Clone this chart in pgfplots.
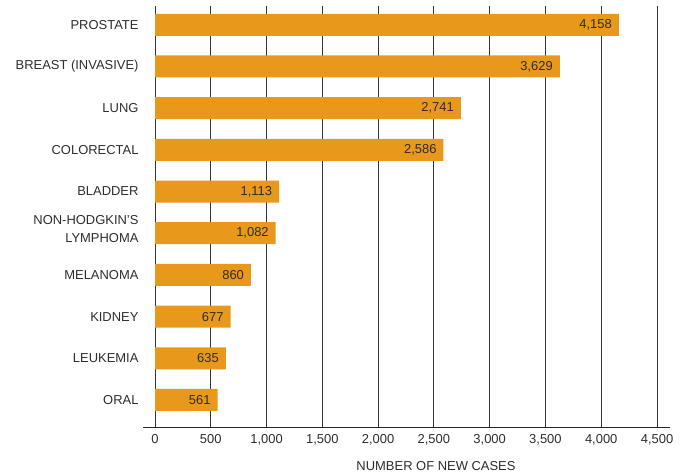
\documentclass[border=0pt]{standalone}
\usepackage{fontspec}
\setmainfont{Liberation Sans}
\usepackage{pgfplots}
\pgfplotsset{compat=1.18}
\definecolor{barc}{RGB}{232,153,28}
\definecolor{txt}{RGB}{45,45,45}
\begin{document}
\begin{tikzpicture}
\begin{axis}[
  at={(0,0)}, anchor=south west,
  scale only axis,
  width=527bp, height=421bp,
  xmin=-107.6, xmax=4616.5,
  ymin=-0.648, ymax=9.45,
  axis x line*=bottom, axis y line*=left,
  y axis line style={draw=none},
  x axis line style={draw=black!85, line width=0.8bp},
  xtick={0,500,...,4500},
  ytick={0,...,9},
  yticklabels={ORAL,LEUKEMIA,KIDNEY,MELANOMA,{NON-HODGKIN’S\\LYMPHOMA\\[-10bp]\mbox{}},BLADDER,COLORECTAL,LUNG,BREAST (INVASIVE),PROSTATE},
  major tick length=0pt,
  tick style={draw=none},
  xmajorgrids,
  grid style={draw=black!80, line width=0.8bp},
  /pgf/number format/assume math mode=true,
  /pgf/number format/.cd, 1000 sep={,}, /pgfplots/.cd,
  ticklabel style={font=\fontsize{13}{18}\selectfont, text=txt},
  yticklabel style={align=right, xshift=-1bp},
  xticklabel style={yshift=-4bp},
  xlabel={NUMBER OF NEW CASES},
  xlabel style={at={(axis description cs:0.556,0)}, anchor=center, yshift=-39bp, font=\fontsize{13}{16}\selectfont, text=txt},
]
\addplot[xbar, fill=barc, draw=none, bar width=22bp,
  nodes near coords,
  every node near coord/.append style={anchor=east, xshift=-3.5bp, font=\fontsize{13}{16}\selectfont, text=txt},
] coordinates {(4158,9) (3629,8) (2741,7) (2586,6) (1113,5) (1082,4) (860,3) (677,2) (635,1) (561,0)};
\end{axis}
\pgfresetboundingbox
\path (-143bp,-49bp) rectangle (542bp,427bp);
\end{tikzpicture}
\end{document}
